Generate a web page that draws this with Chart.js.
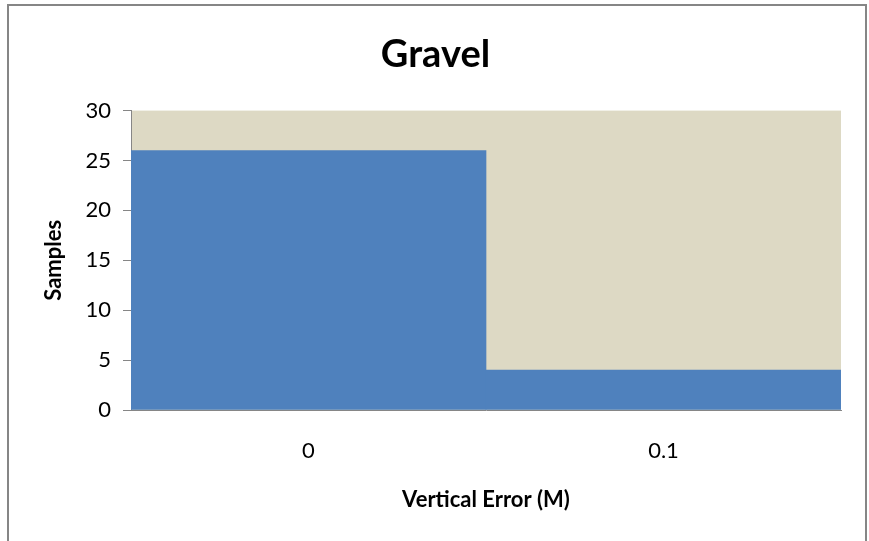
<!DOCTYPE html>
<html>
<head>
<meta charset="utf-8">
<script src="https://cdn.jsdelivr.net/npm/chart.js@4.4.1/dist/chart.umd.min.js"></script>
<style>
  html, body { margin: 0; padding: 0; background: #ffffff; }
  #wrap { width: 869px; height: 541px; position: relative; }
</style>
</head>
<body>
<div id="wrap"><canvas id="chart" width="869" height="541"></canvas></div>
<script>
// Histogram of vertical error for gravel samples
const categories = ['0', '0.1'];
const samples = [26, 4];
const yTicks = [0, 5, 10, 15, 20, 25, 30];

const FONT = 'Lato, "Liberation Sans", sans-serif';

// White page, grey frame and tan plot background
const framePlugin = {
  id: 'frame',
  beforeDraw(chart) {
    const { ctx, chartArea: a } = chart;
    ctx.save();
    ctx.fillStyle = '#ffffff';
    ctx.fillRect(0, 0, chart.width, chart.height);
    ctx.strokeStyle = '#868686';
    ctx.lineWidth = 2;
    ctx.strokeRect(8, 5, 858, chart.height + 10);
    ctx.fillStyle = '#DDD9C4';
    ctx.fillRect(a.left, a.top, a.right - a.left, a.bottom - a.top);
    ctx.restore();
  }
};

new Chart(document.getElementById('chart'), {
  type: 'bar',
  data: {
    labels: categories,
    datasets: [{
      label: 'Samples',
      data: samples,
      backgroundColor: '#4F81BD',
      borderWidth: 0,
      barPercentage: 1,
      categoryPercentage: 1
    }]
  },
  options: {
    responsive: false,
    animation: false,
    layout: { padding: { left: 30, right: 28, top: 22, bottom: 21 } },
    plugins: {
      legend: { display: false },
      tooltip: { enabled: false },
      title: {
        display: true,
        text: 'Gravel',
        color: '#000000',
        font: { family: FONT, size: 38, weight: 'bold' },
        padding: { top: 10, bottom: 33 }
      }
    },
    scales: {
      x: {
        grid: { display: false, drawTicks: false },
        border: { display: true, color: '#868686', width: 1 },
        ticks: { color: '#000000', font: { family: FONT, size: 22 }, padding: 28 },
        title: {
          display: true,
          text: 'Vertical Error (M)',
          color: '#000000',
          font: { family: FONT, size: 22, weight: 'bold' },
          padding: { top: 4, bottom: 7 }
        },
        afterFit(scale) { scale.height = 110; }
      },
      y: {
        min: 0,
        max: 30,
        afterBuildTicks(scale) { scale.ticks = yTicks.map(v => ({ value: v })); },
        grid: { drawOnChartArea: false, drawTicks: true, tickLength: 8, color: '#868686' },
        border: { display: true, color: '#868686', width: 1 },
        ticks: { color: '#000000', font: { family: FONT, size: 22 }, padding: 12 },
        title: {
          display: true,
          text: 'Samples',
          color: '#000000',
          font: { family: FONT, size: 22, weight: 'bold' },
          padding: { top: 11, bottom: 0 }
        },
        afterFit(scale) { scale.width = 101; }
      }
    }
  },
  plugins: [framePlugin]
});
</script>
</body>
</html>
